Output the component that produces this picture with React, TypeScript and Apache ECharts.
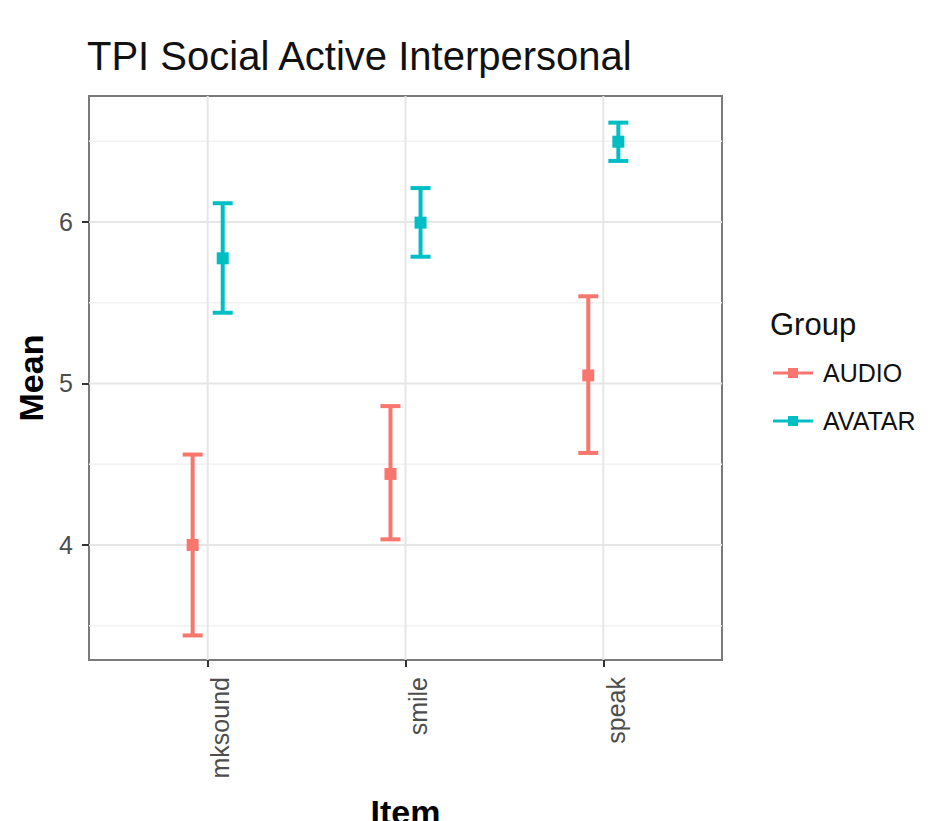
import React, { useEffect, useRef } from "react";
import * as echarts from "echarts";

const categories = ["mksound", "smile", "speak"];
const groups = ["AUDIO", "AVATAR"];

const audioMean = [4.0, 4.44, 5.05];
const audioLow = [3.44, 4.035, 4.57];
const audioHigh = [4.56, 4.86, 5.54];

const avatarMean = [5.775, 5.996, 6.497];
const avatarLow = [5.438, 5.785, 6.378];
const avatarHigh = [6.116, 6.21, 6.615];

const yMajorTicks = [4, 5, 6];
const yMinorLines = [3.5, 4.5, 5.5, 6.5];

const Y_MIN = 3.288;
const Y_MAX = 6.78;
const X_MIN = 0.4;
const X_MAX = 3.6;

const COLORS = ["#F8766D", "#00BFC4"];
const FONT = "Liberation Sans, Arial, Helvetica, sans-serif";

function buildRows(mean: number[], low: number[], high: number[]) {
  return mean.map((m, i) => [i + 1, m, low[i], high[i]]);
}

export default function App() {
  const ref = useRef<HTMLDivElement>(null);

  useEffect(() => {
    document.body.style.margin = "0";
    if (!ref.current) return;
    const chart = echarts.init(ref.current, undefined, { renderer: "svg" });

    const dodge = 0.076;
    const makeErrRender = (offset: number, color: string) => (params: any, api: any) => {
      const x = api.value(0) + offset;
      const pm = api.coord([x, api.value(1)]);
      const pl = api.coord([x, api.value(2)]);
      const ph = api.coord([x, api.value(3)]);
      const half = 10;
      const lw = 4;
      const st = { stroke: color, lineWidth: lw };
      return {
        type: "group",
        children: [
          { type: "line", shape: { x1: pm[0], y1: pl[1], x2: pm[0], y2: ph[1] }, style: st },
          { type: "line", shape: { x1: pm[0] - half, y1: ph[1], x2: pm[0] + half, y2: ph[1] }, style: st },
          { type: "line", shape: { x1: pm[0] - half, y1: pl[1], x2: pm[0] + half, y2: pl[1] }, style: st },
          { type: "rect", shape: { x: pm[0] - 6, y: pm[1] - 6, width: 12, height: 12 }, style: { fill: color } },
        ],
      };
    };

    const gridRender = (params: any, api: any) => {
      const cs = params.coordSys;
      const children: any[] = [];
      yMinorLines.forEach((v) => {
        const p = api.coord([X_MIN, v]);
        children.push({
          type: "line",
          shape: { x1: cs.x, y1: p[1], x2: cs.x + cs.width, y2: p[1] },
          style: { stroke: "#F2F2F2", lineWidth: 1.5 },
        });
      });
      yMajorTicks.forEach((v) => {
        const p = api.coord([X_MIN, v]);
        children.push({
          type: "line",
          shape: { x1: cs.x, y1: p[1], x2: cs.x + cs.width, y2: p[1] },
          style: { stroke: "#E6E6E6", lineWidth: 2 },
        });
      });
      categories.forEach((_, i) => {
        const p = api.coord([i + 1, Y_MIN]);
        children.push({
          type: "line",
          shape: { x1: p[0], y1: cs.y, x2: p[0], y2: cs.y + cs.height },
          style: { stroke: "#E6E6E6", lineWidth: 2 },
        });
      });
      return { type: "group", children };
    };

    const legendIcon = "path://M0,3.5 H40 V6.5 H0 Z M15,0 H25 V10 H15 Z";

    chart.setOption({
      animation: false,
      textStyle: { fontFamily: FONT },
      title: {
        text: "TPI Social Active Interpersonal",
        left: 87,
        top: 36,
        padding: 0,
        textStyle: { fontSize: 40, fontWeight: "normal", color: "#111", fontFamily: FONT },
      },
      legend: {
        orient: "vertical",
        left: 773,
        top: 358,
        padding: 0,
        itemWidth: 40,
        itemHeight: 10,
        itemGap: 18,
        data: groups.map((g) => ({ name: g, icon: legendIcon })),
        textStyle: { fontSize: 25, color: "#111", lineHeight: 30, padding: [0, 0, 0, 5], fontFamily: FONT },
        selectedMode: false,
      },
      graphic: [
        {
          type: "text",
          left: 770,
          top: 309,
          style: { text: "Group", fontSize: 31, fill: "#111", fontFamily: FONT },
        },
      ],
      grid: {
        left: 89,
        right: 213,
        top: 96,
        bottom: 161,
        outerBoundsMode: "none",
        containLabel: false,
        show: true,
        borderColor: "#7a7a7a",
        borderWidth: 2,
        backgroundColor: "#fff",
      },
      xAxis: {
        type: "value",
        min: X_MIN,
        max: X_MAX,
        name: "Item",
        nameLocation: "middle",
        nameGap: 135,
        nameTextStyle: { fontSize: 34, fontWeight: "bold", color: "#000", fontFamily: FONT },
        axisLine: { show: false },
        splitLine: { show: false },
        axisTick: {
          show: true,
          length: 7,
          customValues: categories.map((_, i) => i + 1),
          lineStyle: { color: "#333", width: 2 },
        },
        axisLabel: {
          customValues: categories.map((_, i) => i + 1),
          formatter: (v: number) => categories[Math.round(v) - 1] ?? "",
          rotate: 90,
          verticalAlign: "top",
          margin: 17,
          fontSize: 25,
          color: "#4D4D4D",
          fontFamily: FONT,
        },
      },
      yAxis: {
        type: "value",
        min: Y_MIN,
        max: Y_MAX,
        name: "Mean",
        nameLocation: "middle",
        nameGap: 40,
        nameTextStyle: { fontSize: 34, fontWeight: "bold", color: "#000", fontFamily: FONT },
        axisLine: { show: false },
        splitLine: { show: false },
        axisTick: {
          show: true,
          length: 7,
          customValues: yMajorTicks,
          lineStyle: { color: "#333", width: 2 },
        },
        axisLabel: {
          customValues: yMajorTicks,
          formatter: (v: number) => String(v),
          margin: 16,
          fontSize: 25,
          color: "#4D4D4D",
          fontFamily: FONT,
        },
      },
      series: [
        {
          type: "custom",
          name: "__grid",
          silent: true,
          z: 1,
          data: [[X_MIN, Y_MIN]],
          renderItem: gridRender,
        },
        {
          type: "custom",
          name: groups[0],
          z: 3,
          itemStyle: { color: COLORS[0] },
          data: buildRows(audioMean, audioLow, audioHigh),
          encode: { x: 0, y: [1, 2, 3] },
          renderItem: makeErrRender(-dodge, COLORS[0]),
        },
        {
          type: "custom",
          name: groups[1],
          z: 3,
          itemStyle: { color: COLORS[1] },
          data: buildRows(avatarMean, avatarLow, avatarHigh),
          encode: { x: 0, y: [1, 2, 3] },
          renderItem: makeErrRender(dodge, COLORS[1]),
        },
      ],
    });

    return () => chart.dispose();
  }, []);

  return <div ref={ref} style={{ width: 935, height: 821 }} />;
}
